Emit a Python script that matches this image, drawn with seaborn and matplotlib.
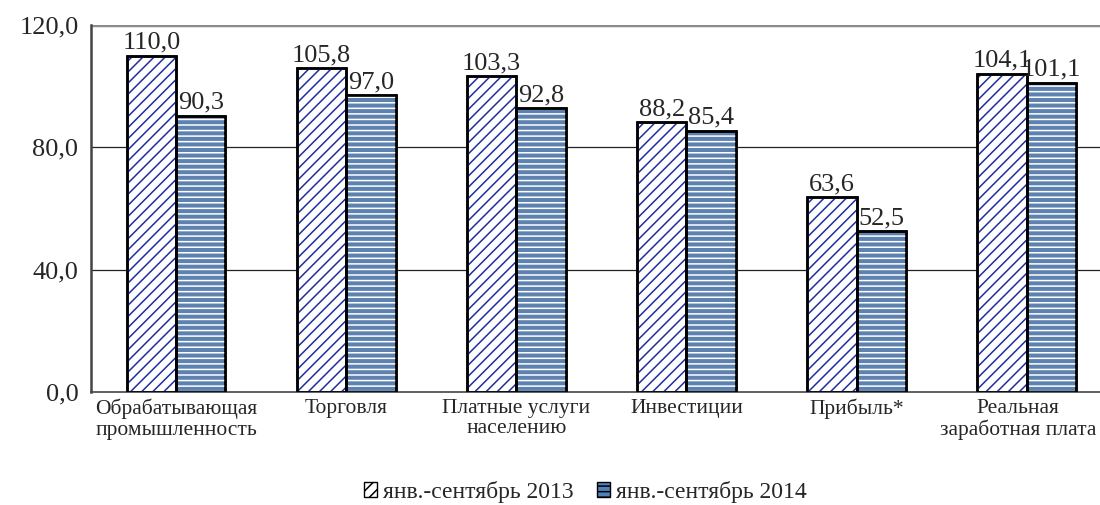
import pandas as pd
import seaborn as sns
import matplotlib.pyplot as plt
import matplotlib.transforms as mtransforms
from matplotlib.patches import Rectangle, Patch

# Data
categories = ['Обрабатывающая\nпромышленность', 'Торговля', 'Платные услуги\nнаселению',
              'Инвестиции', 'Прибыль*', 'Реальная\nзаработная плата']
series_names = ['янв.-сентябрь 2013', 'янв.-сентябрь 2014']
values_2013 = [110.0, 105.8, 103.3, 88.2, 63.6, 104.1]
values_2014 = [90.3, 97.0, 92.8, 85.4, 52.5, 101.1]

df = pd.DataFrame({
    'cat': categories * 2,
    'period': [series_names[0]] * 6 + [series_names[1]] * 6,
    'value': values_2013 + values_2014,
})

sns.set_style('white')
plt.rcParams['font.family'] = ['Liberation Serif', 'DejaVu Serif']
plt.rcParams['hatch.linewidth'] = 1.1

face_colors = ['white', '#4F81BD']
hatch_colors = ['#1F2FA0', 'white']
hatches = ['///', '---']

fig = plt.figure(figsize=(11, 5.05), dpi=100)
ax = fig.add_axes([0.0827, 0.2238, 0.928, 0.7267])

sns.barplot(data=df, x='cat', y='value', hue='period', palette=face_colors,
            width=0.58, gap=0, edgecolor='black', linewidth=1.8, ax=ax, legend=False,
            errorbar=None)

# hatch overlay with its own colour, then a black outline on top
for i, cont in enumerate(ax.containers):
    for bar in cont:
        bar.set_zorder(2)
        ov = Rectangle(bar.get_xy(), bar.get_width(), bar.get_height(),
                       facecolor='none', edgecolor=hatch_colors[i], hatch=hatches[i],
                       linewidth=0, zorder=2.5)
        ax.add_patch(ov)
        edge = Rectangle(bar.get_xy(), bar.get_width(), bar.get_height(),
                         facecolor='none', edgecolor='black', linewidth=1.8, zorder=3)
        ax.add_patch(edge)
    ax.bar_label(cont, labels=[f'{v:.1f}'.replace('.', ',') for v in cont.datavalues],
                 padding=1.5, fontsize=19)

ax.set_ylim(0, 120)
ax.set_xlim(-0.5, 5.5)
ax.set_yticks([0, 40, 80, 120])
ax.set_yticklabels(['0,0', '40,0', '80,0', '120,0'], fontsize=19)
ax.set_xticks(range(6))
ax.set_xticklabels(categories, fontsize=15.5, linespacing=1.1)
ax.tick_params(axis='x', which='major', length=0, pad=5)
ax.set_xticks([i + 0.5 for i in range(-1, 6)], minor=True)
ax.tick_params(axis='x', which='minor', length=6, color='#444444', width=1)
ax.tick_params(axis='y', length=6, color='#444444', width=1, pad=3)
ax.set_xlabel('')
ax.set_ylabel('')

# nudge the last category label so it stays inside the figure
last = ax.get_xticklabels()[-1]
last.set_transform(last.get_transform() +
                   mtransforms.ScaledTranslation(-9 / 100, 0, fig.dpi_scale_trans))

for y in [40, 80]:
    ax.axhline(y, color='#222222', linewidth=0.9, zorder=1)
ax.axhline(120, color='#8c8c8c', linewidth=2.5, zorder=1)

for s in ['top', 'right']:
    ax.spines[s].set_visible(False)
ax.spines['left'].set_color('#444444')
ax.spines['left'].set_linewidth(1.8)
ax.spines['bottom'].set_color('#444444')
ax.spines['bottom'].set_linewidth(1.2)

handles = [Patch(facecolor=face_colors[i], edgecolor='black', hatch=hatches[i], linewidth=1)
           for i in range(2)]
fig.legend(handles, series_names, loc='center', bbox_to_anchor=(0.532, 0.026),
           ncol=2, frameon=False, fontsize=17, handlelength=0.55, handleheight=0.55,
           handletextpad=0.25, columnspacing=1.0, borderpad=0.1)

fig.savefig('out.png', dpi=100)
